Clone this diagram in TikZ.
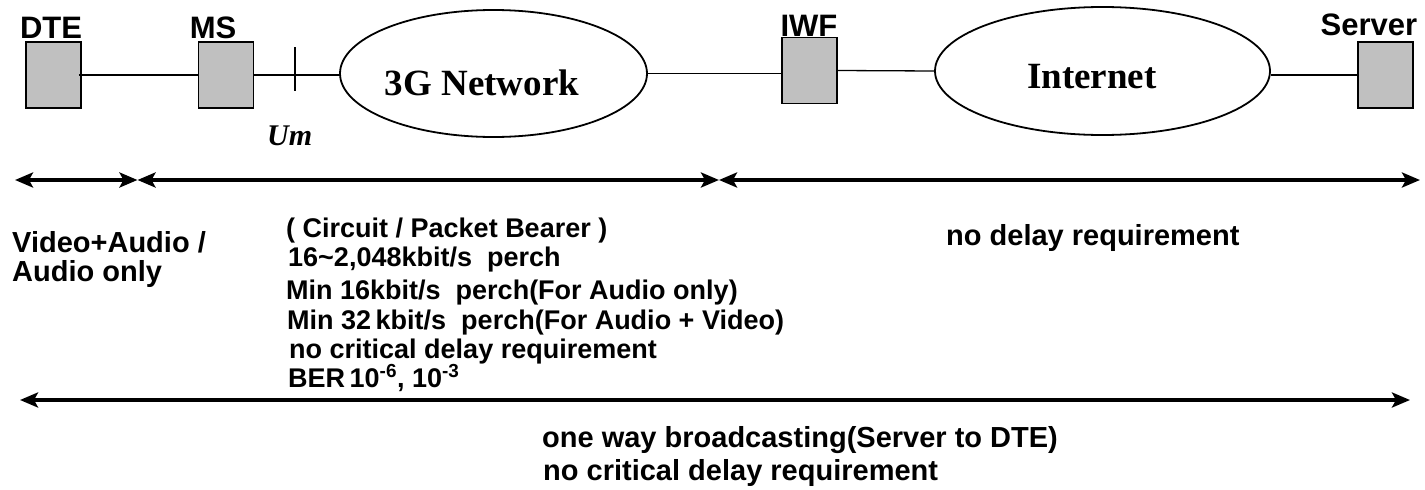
\documentclass[tikz,border=0pt]{standalone}
\usepackage{fontspec}
\setmainfont{Liberation Sans}
\newfontfamily\serifb{Liberation Serif}
\usetikzlibrary{arrows.meta,shapes.geometric}
\definecolor{boxgray}{RGB}{192,192,192}
\begin{document}
\begin{tikzpicture}[x=1pt,y=-1pt,
  devbox/.style={draw, line width=1.6pt, fill=boxgray, minimum width=55pt, minimum height=66pt, inner sep=0pt},
  cloud/.style={draw, ellipse, line width=1.8pt, inner sep=0pt},
  link/.style={line width=1.3pt},
  span/.style={line width=4pt, {Stealth[length=18pt,width=15pt,inset=4pt]}-{Stealth[length=18pt,width=15pt,inset=4pt]}},
  lbl/.style={inner sep=0pt, anchor=base, font=\bfseries\fontsize{31}{35}\selectfont},
  txt/.style={inner sep=0pt, anchor=base west, font=\bfseries\fontsize{29}{33}\selectfont},
  mid/.style={inner sep=0pt, anchor=base west, font=\bfseries\fontsize{27}{31}\selectfont},
  big/.style={inner sep=0pt, anchor=base, font=\serifb\bfseries\fontsize{37}{42}\selectfont}
]
\useasboundingbox (0,0) rectangle (1425,490);

% devices
\node[devbox] (dte) at (53.5,75) {};
\node[devbox] (ms) at (226,75) {};
\node[devbox] (iwf) at (809.5,70.5) {};
\node[devbox] (srv) at (1385.5,75) {};

\node[lbl] (ldte) at (51,38) {DTE};
\node[lbl] (lms) at (213,38) {MS};
\node[lbl] (liwf) at (809,36) {IWF};
\node[lbl] (lsrv) at (1369,35) {Server};

% networks
\node[cloud, minimum width=307pt, minimum height=127pt] (g3) at (493.5,73.5) {};
\node[cloud, minimum width=335pt, minimum height=128pt] (inet) at (1102.5,71) {};
\node[big] (tg3) at (482,95) {3G Network};
\node[big] (tinet) at (1092,88) {Internet};

% links
\draw[link] ([xshift=-3pt]dte.east) -- (ms.west);
\draw[link] (ms.east) -- (g3.west |- ms.east);
\draw[link] (g3.east) -- (iwf.west |- g3.east);
\draw[link] (iwf.east) -- (inet.west);
\draw[link] (inet.east |- srv.west) -- (srv.west);
\draw[line width=1.6pt] (295,47) -- (295,91);
\node[inner sep=0pt, anchor=base west, font=\serifb\bfseries\itshape\fontsize{30}{34}\selectfont] (um) at (267,145) {Um};

% spans
\coordinate (a0) at (15,180);
\coordinate (a1) at (137.5,180);
\coordinate (a2) at (719,180);
\coordinate (a3) at (1420,180);
\draw[span] (a0) -- (a1);
\draw[span] (a1) -- (a2);
\draw[span] (a2) -- (a3);
\coordinate (b0) at (20,400);
\coordinate (b1) at (1410,400);
\draw[span] (b0) -- (b1);

% texts
\node[txt] (t1) at (12,252) {Video+Audio /};
\node[txt] (t2) at (12,281) {Audio only};

\node[mid] (c1) at (286,237) {( Circuit / Packet Bearer )};
\node[mid] (c2) at (288,266) {16\textasciitilde 2,048kbit/s\ \ perch};
\node[mid] (c3) at (286,299) {Min 16kbit/s\ \ perch(For Audio only)};
\node[mid] (c4) at (287,329) {Min 32\,kbit/s\ \ perch(For Audio + Video)};
\node[mid] (c5) at (289,358) {no critical delay requirement};
\node[mid] (c6) at (288,387) {BER\,10\textsuperscript{-6}, 10\textsuperscript{-3}};

\node[txt] (d1) at (946,245) {no delay requirement};

\node[txt] (e1) at (542,447) {one way broadcasting(Server to DTE)};
\node[txt] (e2) at (543,480) {no critical delay requirement};
\end{tikzpicture}
\end{document}
